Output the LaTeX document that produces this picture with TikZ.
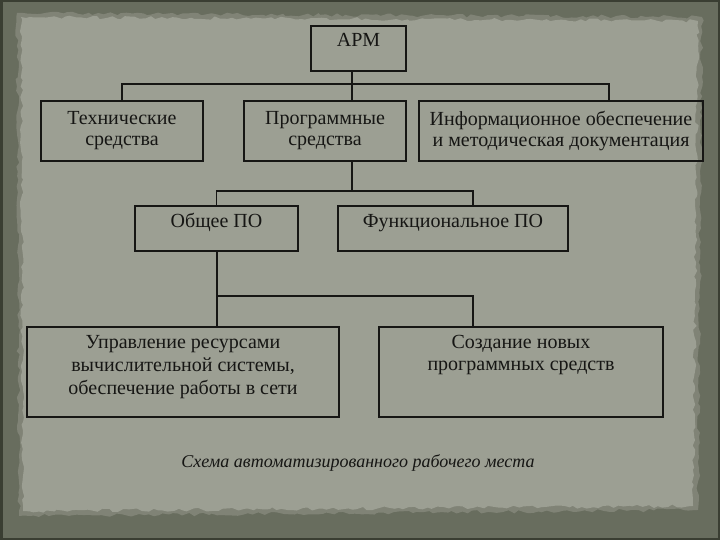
\documentclass[tikz,border=0pt]{standalone}
\usepackage{fontspec}
\setmainfont{Liberation Serif}
\usepackage{xcolor}
\usepackage{tikz}
\usetikzlibrary{calc, positioning, decorations.pathmorphing}

\definecolor{frameclr}{RGB}{104,109,94}
\definecolor{edgeclr}{RGB}{58,62,50}
\definecolor{rimclr}{RGB}{128,131,118}
\definecolor{panelclr}{RGB}{156,159,147}
\definecolor{inkclr}{RGB}{22,22,20}

\begin{document}
\begin{tikzpicture}[x=1pt, y=-1pt,
    box/.style={draw=inkclr, line width=1.4pt, inner sep=0pt},
    txt/.style={inner sep=0pt, align=center, text=inkclr,
        font=\fontsize{20}{21}\selectfont},
    oneline/.style={txt, text height=14pt, text depth=5pt},
    link/.style={draw=inkclr, line width=1.2pt},
    torn/.style={decorate, decoration={random steps, segment length=5pt, amplitude=1.8pt}}]

    \pgfmathsetseed{11}
    \useasboundingbox (0,0) rectangle (720,540);

    % =================================================================
    % 1. ФОН: РАМКА И РВАНЫЙ ЛИСТ
    % =================================================================
    \fill[frameclr] (0,0) rectangle (720,540);
    \draw[edgeclr, line width=5pt] (0,0) rectangle (720,540);
    \fill[rimclr, torn] (17,13) -- (702,17) -- (698,510) -- (19,516) -- cycle;
    \fill[panelclr, torn] (21,17) -- (698,21) -- (693,506) -- (23,511) -- cycle;

    % =================================================================
    % 2. БЛОКИ СХЕМЫ
    % =================================================================
    \node[box, minimum width=95pt, minimum height=45pt] (arm) at (358.5,48.5) {};

    \node[box, minimum width=162pt, minimum height=60pt] (tech) at (122,131) {};
    \node[box, minimum width=162pt, minimum height=60pt] (prog) at (325,131) {};
    \node[box, minimum width=284pt, minimum height=60pt] (info) at (561,131) {};

    \node[box, minimum width=163pt, minimum height=45pt] (gen) at (216.5,228.5) {};
    \node[box, minimum width=230pt, minimum height=45pt] (func) at (453,228.5) {};

    \node[box, minimum width=312pt, minimum height=90pt] (res) at (183,372) {};
    \node[box, minimum width=284pt, minimum height=90pt] (new) at (521,372) {};

    % =================================================================
    % 3. ПОДПИСИ В БЛОКАХ
    % =================================================================
    \node[oneline, below=7pt of arm.north] (armtxt) {АРМ};
    \node[txt, below=10.5pt of tech.north] (techtxt) {Технические\\средства};
    \node[txt, below=10.5pt of prog.north] (progtxt) {Программные\\средства};
    \node[txt, below=10.5pt of info.north] (infotxt) {Информационное обеспечение\\и методическая документация};
    \node[oneline, below=8pt of gen.north] (gentxt) {Общее ПО};
    \node[oneline, below=8pt of func.north] (functxt) {Функциональное ПО};
    \node[txt, below=9pt of res.north, font=\fontsize{20}{23}\selectfont] (restxt)
        {Управление ресурсами\\вычислительной системы,\\обеспечение работы в сети};
    \node[txt, below=9pt of new.north, font=\fontsize{20}{22}\selectfont] (newtxt)
        {Создание новых\\программных средств};

    % =================================================================
    % 4. СОЕДИНИТЕЛЬНЫЕ ЛИНИИ
    % =================================================================
    \coordinate (busA) at (352,84);
    \coordinate (busB) at (352,191);
    \coordinate (busC) at (217,296);

    \draw[link] ([xshift=-6.5pt]arm.south) -- ([xshift=27pt]prog.north);
    \draw[link] (tech.north) |- (busA) -| ([xshift=48pt]info.north);

    \draw[link] ([xshift=27pt]prog.south) -- (busB);
    \draw[link] (gen.north) |- (busB) -| ([xshift=20pt]func.north);

    \draw[link] (busC |- gen.south) -- (busC |- res.north);
    \draw[link] (busC) -| ([xshift=-48pt]new.north);

    % =================================================================
    % 5. ПОДПИСЬ СХЕМЫ
    % =================================================================
    \node[text=inkclr, font=\fontsize{18}{20}\selectfont\itshape, anchor=base] (caption) at (358,467)
        {Схема автоматизированного рабочего места};

\end{tikzpicture}
\end{document}
